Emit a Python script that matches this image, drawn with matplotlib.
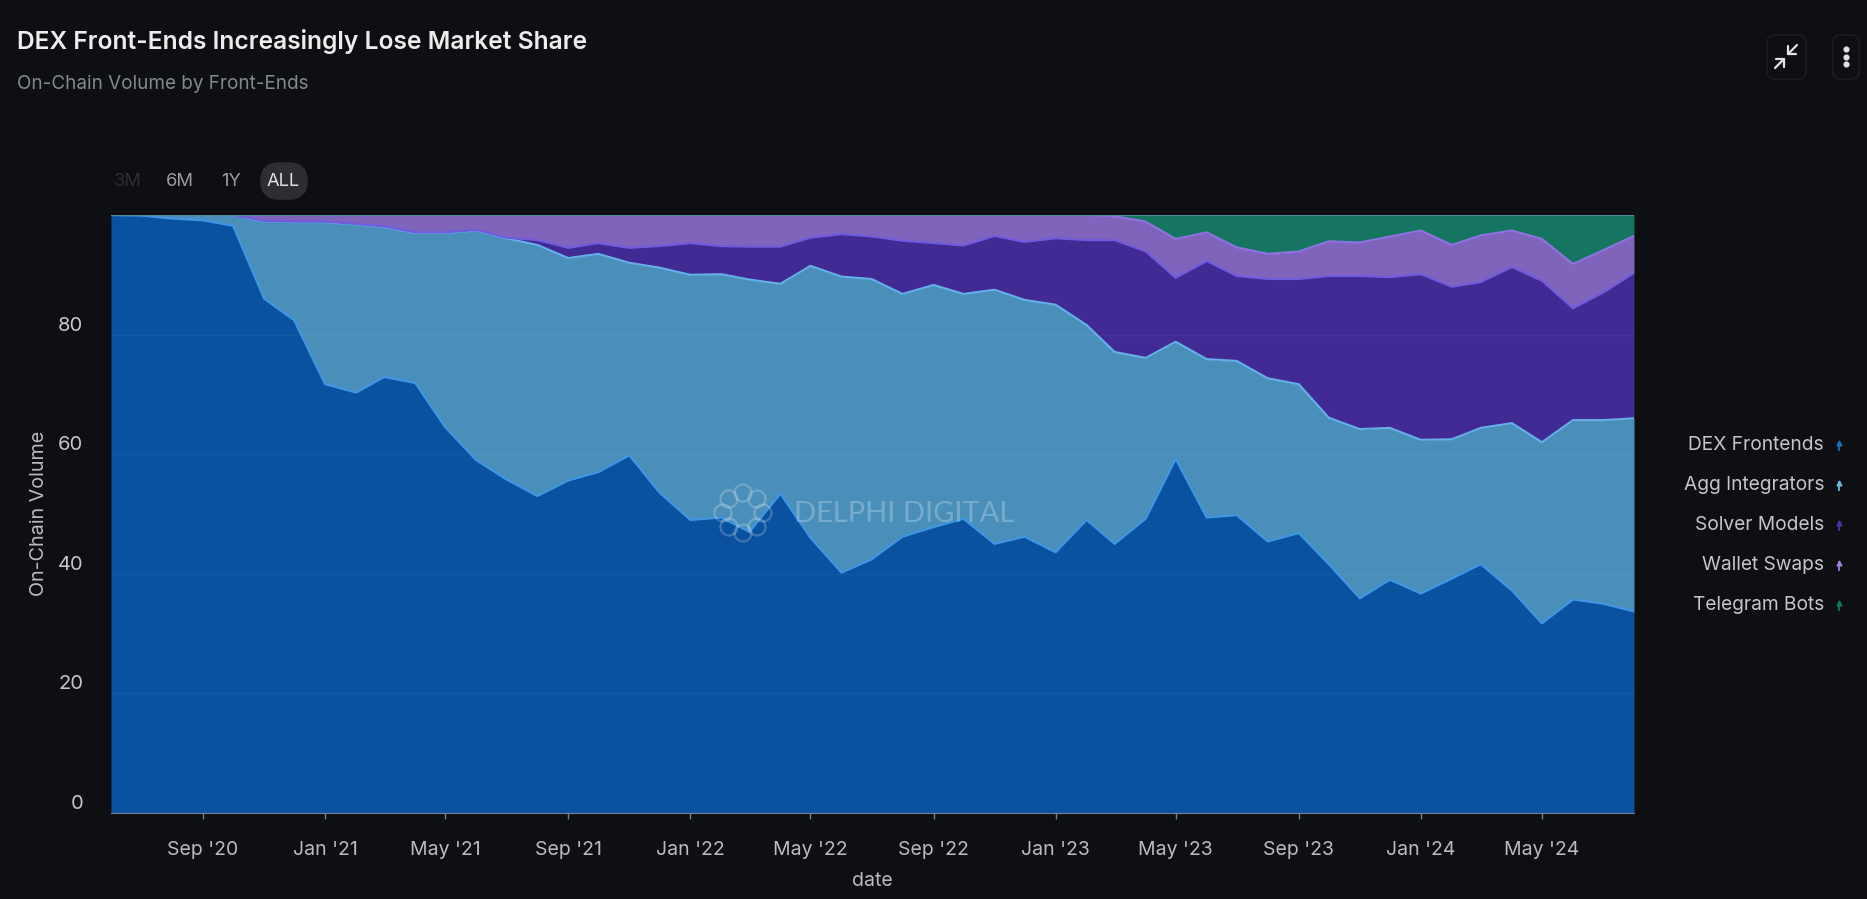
import matplotlib
matplotlib.use("Agg")
import matplotlib.pyplot as plt
from matplotlib.patches import Circle, FancyBboxPatch
from matplotlib.transforms import ScaledTranslation
import pandas as pd

W, H = 1867, 899
BG = "#0e0f12"

# Stacked boundaries, one per month from Jun '20 to Aug '24
dates = pd.date_range("2020-06-01", periods=51, freq="MS")
dex_top = [100, 99.9, 99.4, 99.1, 98.2, 86, 82.4, 71.7, 70.3, 72.9,
           71.9, 64.5, 59, 55.8, 53, 55.6, 57, 59.8, 53.6, 49,
           49.4, 47, 53.4, 46, 40.2, 42.4, 46.2, 47.8, 49.2, 45,
           46.2, 43.6, 49, 45, 49.2, 59.2, 49.4, 49.8, 45.4, 46.8,
           41.6, 35.9, 39, 36.7, 39.2, 41.6, 37.2, 31.7, 35.7, 35, 33.7]
agg_top = [100, 100, 100, 100, 100, 98.9, 98.8, 98.8, 98.4, 98,
           97, 97, 97.4, 96.1, 95, 92.8, 93.5, 92, 91.2, 90,
           90.1, 89.2, 88.5, 91.5, 89.7, 89.3, 86.8, 88.3, 86.8, 87.5,
           85.8, 85, 81.6, 77.1, 76.1, 78.8, 75.9, 75.6, 72.7, 71.7,
           66.1, 64.2, 64.4, 62.4, 62.5, 64.4, 65.2, 62, 65.7, 65.7, 66]
solver_top = [100, 100, 100, 100, 100, 99, 98.9, 98.9, 98.5, 98.1,
              97.1, 97.1, 97.5, 96.2, 95.8, 94.5, 95.3, 94.5, 94.8, 95.3,
              94.8, 94.7, 94.7, 96.2, 96.8, 96.4, 95.7, 95.3, 94.9, 96.5,
              95.5, 96.1, 95.8, 95.8, 93.9, 89.5, 92.3, 89.8, 89.3, 89.3,
              89.8, 89.8, 89.6, 90.1, 88, 88.8, 91.3, 89, 84.4, 87, 90.3]
wallet_top = [100, 100, 100, 100, 100, 100, 100, 100, 100, 100,
              100, 100, 100, 100, 100, 100, 100, 100, 100, 100,
              100, 100, 100, 100, 100, 100, 100, 100, 100, 100,
              100, 100, 100, 99.8, 98.9, 96, 97.1, 94.6, 93.5, 93.9,
              95.6, 95.4, 96.4, 97.4, 95, 96.6, 97.4, 96, 91.8, 94.1, 96.5]
telegram_top = [100] * 51

series_names = ["DEX Frontends", "Agg Integrators", "Solver Models", "Wallet Swaps", "Telegram Bots"]
fill_colors = ["#0a52a0", "#4a8fba", "#412a94", "#8064bc", "#157560"]
line_colors = ["#3f96e6", "#66b0ea", "#6f5ae0", "#8f72e4", "#4f8f94"]
legend_colors = ["#1a6fb8", "#6fb5d8", "#4a35a8", "#9a80d8", "#157a5a"]

y_ticks = [0, 20, 40, 60, 80]
x_tick_dates = pd.date_range("2020-09-01", periods=12, freq="4MS")
x_tick_labels = ["Sep '20", "Jan '21", "May '21", "Sep '21", "Jan '22", "May '22",
                 "Sep '22", "Jan '23", "May '23", "Sep '23", "Jan '24", "May '24"]
range_buttons = ["3M", "6M", "1Y", "ALL"]

plt.rcParams["font.family"] = ["Inter", "DejaVu Sans"]

fig = plt.figure(figsize=(W / 100, H / 100), dpi=100, facecolor=BG)
ax = fig.add_axes([111 / W, 1 - 813 / H, (1634 - 111) / W, (813 - 215) / H], facecolor=BG)

# Areas, bottom to top
tops = [dex_top, agg_top, solver_top, wallet_top, telegram_top]
lower = [0] * 51
for top, fill, line in zip(tops, fill_colors, line_colors):
    ax.fill_between(dates, lower, top, color=fill, linewidth=0, zorder=2)
    ax.plot(dates, top, color=line, linewidth=1.5, zorder=3)
    lower = top

ax.set_xlim(dates[0], dates[-1])
ax.set_ylim(0, 100)
ax.grid(axis="y", color="white", alpha=0.04, linewidth=1, zorder=4)
ax.set_axisbelow(False)
for side in ["top", "right", "left"]:
    ax.spines[side].set_visible(False)
ax.spines["bottom"].set_color("#6f7f96")

ax.set_yticks(y_ticks)
ax.set_xticks(x_tick_dates)
ax.set_xticklabels(x_tick_labels)
ax.tick_params(axis="y", length=0, pad=20, labelsize=14.5, labelcolor="#c4c6c9")
ax.tick_params(axis="x", length=4, width=1, color="#6f7f96", pad=16, labelsize=14, labelcolor="#b9bbbe")
# y labels sit just above their grid line
shift = ScaledTranslation(0, 11 / 100, fig.dpi_scale_trans)
for lab in ax.get_yticklabels():
    lab.set_transform(lab.get_transform() + shift)

# Everything else is placed in image pixels on a clear overlay
over = fig.add_axes([0, 0, 1, 1], facecolor="none", zorder=5)
over.set_xlim(0, W)
over.set_ylim(H, 0)
over.axis("off")

over.text(17, 42, "DEX Front-Ends Increasingly Lose Market Share", color="#eceded",
          fontsize=17.7, fontweight="semibold", va="center")
over.text(17, 84, "On-Chain Volume by Front-Ends", color="#84888e", fontsize=13.6, va="center")
over.text(872, 881, "date", color="#b9bbbe", fontsize=14, ha="center", va="center")
over.text(39, 513, "On-Chain Volume", color="#b9bbbe", fontsize=14.2, rotation=90, ha="center", va="center")

# Range buttons
over.add_patch(FancyBboxPatch((270, 172), 28, 18, boxstyle="round,pad=0,rounding_size=8",
                              mutation_aspect=1, facecolor="#2c2e32", edgecolor="#2c2e32", linewidth=14))
for label, x, col in zip(range_buttons, [128, 180, 231, 283], ["#2c2e31", "#9a9c9f", "#9a9c9f", "#e0e1e2"]):
    over.text(x, 181, label, color=col, fontsize=13.2, ha="center", va="center")

# Legend
for i, name in enumerate(series_names):
    y = 445 + i * 40
    over.text(1824, y, name, color="#c4c6c9", fontsize=13.8, ha="right", va="center")
    over.plot([1839, 1839], [y - 3, y + 5], color=legend_colors[i], linewidth=1.3)
    over.plot([1839], [y - 2], marker="^", markersize=3.5, color=legend_colors[i], linewidth=0)

# Watermark
ring = [(743, 493), (757, 499), (763, 513), (757, 527), (743, 533), (729, 527), (723, 513), (729, 499)]
for cx, cy in ring:
    over.add_patch(Circle((cx, cy), 8.5, facecolor="none", edgecolor="white", alpha=0.22, linewidth=1.6))
over.text(904, 514, "DELPHI DIGITAL", color="white", alpha=0.25, family="Lato", fontsize=21,
          ha="center", va="center")

# Top-right icons
for x0, x1 in [(1767, 1806), (1833, 1859)]:
    over.add_patch(FancyBboxPatch((x0, 35), x1 - x0, 44, boxstyle="round,pad=0,rounding_size=8",
                                  facecolor="none", edgecolor="#1c1d20", linewidth=1.2))
icon = dict(color="#e2e2e2", linewidth=1.6, solid_capstyle="round")
over.plot([1797, 1788], [45, 54], **icon)
over.plot([1788, 1788, 1796], [46, 54, 54], **icon)
over.plot([1775, 1784], [68, 59], **icon)
over.plot([1776, 1784, 1784], [59, 59, 67], **icon)
over.plot([1846, 1846, 1846], [49, 56.5, 64], "o", color="#e2e2e2", markersize=3.4)

fig.savefig("out.png", dpi=100, facecolor=BG)
